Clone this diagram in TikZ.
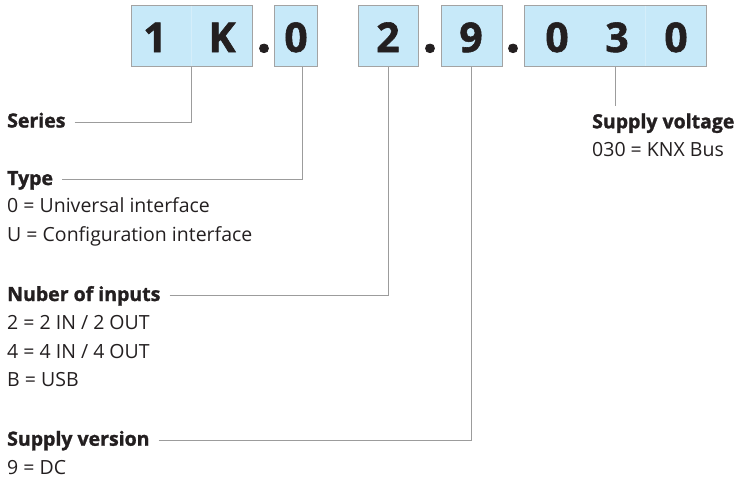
\documentclass[tikz,border=0pt]{standalone}
\usepackage{fontspec}
\setmainfont{Open Sans}[BoldFeatures={FakeBold=1.4}]
\definecolor{cellblue}{HTML}{C7E9F9}
\definecolor{framegray}{HTML}{A3A3A3}
\definecolor{inkgray}{HTML}{231F20}
\definecolor{linegray}{HTML}{9C9C9C}
\tikzset{
  codebox/.style={draw=framegray, fill=cellblue, line width=1pt, minimum height=61pt, inner sep=0pt},
  digit/.style={font=\bfseries\fontsize{41}{41}\selectfont, text=inkgray, anchor=base, inner sep=0pt},
  sep/.style={digit, font=\bfseries\fontsize{52}{52}\selectfont},
  heading/.style={font=\bfseries\fontsize{19.5}{22}\selectfont, text=inkgray, anchor=base west, inner sep=0pt, text height=11pt, text depth=0pt},
  entry/.style={font=\fontsize{19.5}{22}\selectfont, text=inkgray, anchor=base west, inner sep=0pt},
  link/.style={draw=linegray, line width=0.9pt},
  leader/.style={link, shorten <=9pt},
}
\begin{document}
\begin{tikzpicture}[x=1pt,y=-1pt]
\useasboundingbox (0,0) rectangle (736,480);
%code boxes
\node[codebox, minimum width=121pt] (b1k) at (191.5,35.5) {};
\node[codebox, minimum width=43pt] (b0) at (295.5,35.5) {};
\node[codebox, minimum width=60pt] (b2) at (388,35.5) {};
\node[codebox, minimum width=61pt] (b9) at (471.5,35.5) {};
\node[codebox, minimum width=182pt] (b030) at (615,35.5) {};
\draw[white!25!cellblue] ([yshift=-1pt]b1k.north) -- ([yshift=1pt]b1k.south);
\draw[white!25!cellblue] ([xshift=30pt,yshift=-1pt]b030.north) -- ([xshift=30pt,yshift=1pt]b030.south);
%digits
\node[digit] (c1) at (155,52) {1};
\node[digit] (cK) at (222,52) {K};
\node[digit] (c0) at (296,52) {0};
\node[digit] (c2) at (388,52) {2};
\node[digit] (c9) at (471,52) {9};
\node[digit] (cv1) at (557,52) {0};
\node[digit] (cv2) at (617,52) {3};
\node[digit] (cv3) at (676,52) {0};
\node[sep] (p1) at (264,52) {.};
\node[sep] (p2) at (430,52) {.};
\node[sep] (p3) at (513,52) {.};
%labels
\node[heading] (lseries) at (7,127.5) {Series};
\node[heading] (ltype) at (7,185) {Type};
\node[entry] (ltype0) at (7,212.7) {0 = Universal interface};
\node[entry] (ltypeU) at (7,241.7) {U = Configuration interface};
\node[heading] (linputs) at (7,301) {Nuber of inputs};
\node[entry] (linputs2) at (7,329.3) {2 = 2 IN / 2 OUT};
\node[entry] (linputs4) at (7,358.3) {4 = 4 IN / 4 OUT};
\node[entry] (linputsB) at (7,386.7) {B = USB};
\node[heading] (lversion) at (7,445.7) {Supply version};
\node[entry] (lversion9) at (7,474) {9 = DC};
\node[heading] (lvoltage) at (592,128.3) {Supply voltage};
\node[entry] (lvoltage030) at (592,156.7) {030 = KNX Bus};
%connectors
\coordinate (t0) at ([xshift=7pt]b0.south);
\coordinate (tv) at (b030.south |- 0,106);
\draw[leader] (lseries.east) -- (lseries.east -| b1k.south) -- (b1k.south);
\draw[leader] (ltype.east) -- (ltype.east -| t0) -- (t0);
\draw[leader] (linputs.east) -- (linputs.east -| b2.south) -- (b2.south);
\draw[leader] (lversion.east) -- (lversion.east -| b9.south) -- (b9.south);
\draw[link] (b030.south) -- (tv);
\end{tikzpicture}
\end{document}
